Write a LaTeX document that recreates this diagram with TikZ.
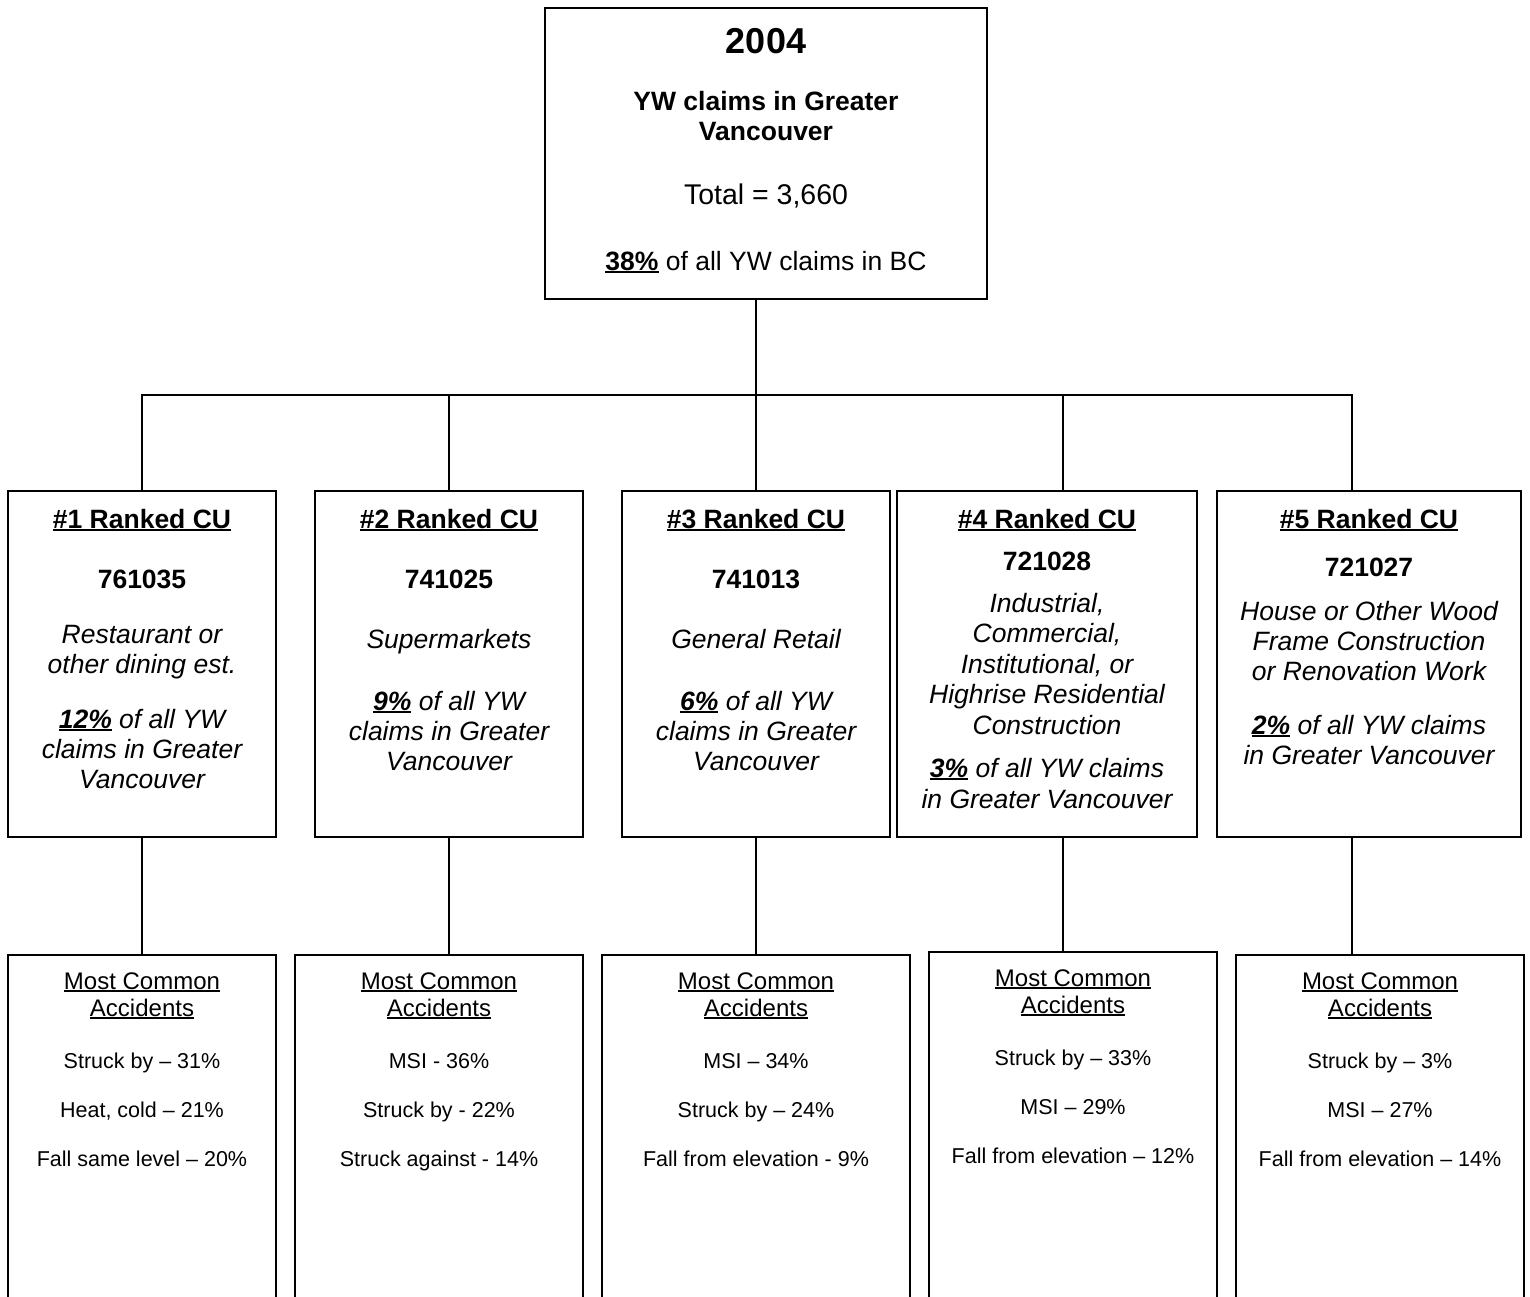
\documentclass[tikz,border=0pt]{standalone}
\usepackage{fontspec}
\setmainfont{Liberation Sans}
\newcommand\ulx[1]{\setbox0=\hbox{#1}\leavevmode\rlap{\rule[-0.12em]{\wd0}{0.075em}}\box0\relax}
\begin{document}
\begin{tikzpicture}[x=1pt,y=-1pt,
  box/.style={draw, line width=1.8pt, inner sep=0pt},
  conn/.style={draw, line width=1.8pt},
  txt/.style={inner sep=0pt, anchor=base},
  fyear/.style={txt, font=\fontsize{36}{40}\bfseries\selectfont},
  fbold/.style={txt, font=\fontsize{26.5}{30}\bfseries\selectfont},
  freg/.style={txt, font=\fontsize{26.5}{30}\selectfont},
  ftot/.style={txt, font=\fontsize{28.5}{32}\selectfont},
  fit/.style={txt, font=\fontsize{26.5}{30}\itshape\selectfont},
  fhead/.style={txt, font=\fontsize{24}{27}\selectfont},
  fitem/.style={txt, font=\fontsize{21.5}{25}\selectfont}]
\clip (0,0) rectangle (1530,1296);
% boxes
\node[box, minimum width=442pt, minimum height=291pt] (top) at (766,153.5) {};
\node[box, minimum width=268pt, minimum height=346pt] (b1) at (142,664) {};
\node[box, minimum width=268pt, minimum height=346pt] (b2) at (449,664) {};
\node[box, minimum width=268pt, minimum height=346pt] (b3) at (756,664) {};
\node[box, minimum width=300pt, minimum height=346pt] (b4) at (1047,664) {};
\node[box, minimum width=304pt, minimum height=346pt] (b5) at (1369,664) {};
\node[box, minimum width=268pt, minimum height=400pt] (c1) at (142,1155) {};
\node[box, minimum width=288pt, minimum height=400pt] (c2) at (439,1155) {};
\node[box, minimum width=308pt, minimum height=400pt] (c3) at (756,1155) {};
\node[box, minimum width=288pt, minimum height=400pt] (c4) at (1073,1152) {};
\node[box, minimum width=288pt, minimum height=400pt] (c5) at (1380,1155) {};
% connectors
\coordinate (bar) at (0,395);
\coordinate (x4) at (1063,0);
\coordinate (x5) at (1352,0);
\draw[conn] (top.south -| b3.north) -- (b3.north);
\draw[conn] (b1.north) -- (b1.north |- bar) -- (x5 |- bar) -- (x5 |- b5.north);
\draw[conn] (b2.north) -- (b2.north |- bar);
\draw[conn] (x4 |- b4.north) -- (x4 |- bar);
\draw[conn] (b1.south) -- (c1.north);
\draw[conn] (b2.south) -- (b2.south |- c2.north);
\draw[conn] (b3.south) -- (c3.north);
\draw[conn] (x4 |- b4.south) -- (x4 |- c4.north);
\draw[conn] (x5 |- b5.south) -- (x5 |- c5.north);
% top texts
\node[fyear] (t0a) at (766,53) {2004};
\node[fbold] (t0b) at (766,110) {YW claims in Greater};
\node[fbold] (t0c) at (766,140) {Vancouver};
\node[ftot] (t0d) at (766,204) {Total = 3,660};
\node[freg] (t0e) at (766,270) {\ulx{\bfseries 38\%} of all YW claims in BC};
% box 1
\node[fbold] (t1a) at (142,528) {\ulx{\#1 Ranked CU}};
\node[fbold] (t1b) at (142,588) {761035};
\node[fit] (t1c) at (142,643) {Restaurant or};
\node[fit] (t1d) at (142,673) {other dining est.};
\node[fit] (t1e) at (142,728) {\ulx{\bfseries 12\%} of all YW};
\node[fit] (t1f) at (142,758) {claims in Greater};
\node[fit] (t1g) at (142,788) {Vancouver};
% box 2
\node[fbold] (t2a) at (449,528) {\ulx{\#2 Ranked CU}};
\node[fbold] (t2b) at (449,588) {741025};
\node[fit] (t2c) at (449,648) {Supermarkets};
\node[fit] (t2d) at (449,710) {\ulx{\bfseries 9\%} of all YW};
\node[fit] (t2e) at (449,740) {claims in Greater};
\node[fit] (t2f) at (449,770) {Vancouver};
% box 3
\node[fbold] (t3a) at (756,528) {\ulx{\#3 Ranked CU}};
\node[fbold] (t3b) at (756,588) {741013};
\node[fit] (t3c) at (756,648) {General Retail};
\node[fit] (t3d) at (756,710) {\ulx{\bfseries 6\%} of all YW};
\node[fit] (t3e) at (756,740) {claims in Greater};
\node[fit] (t3f) at (756,770) {Vancouver};
% box 4
\node[fbold] (t4a) at (1047,528) {\ulx{\#4 Ranked CU}};
\node[fbold] (t4b) at (1047,570) {721028};
\node[fit] (t4c) at (1047,612) {Industrial,};
\node[fit] (t4d) at (1047,642) {Commercial,};
\node[fit] (t4e) at (1047,673) {Institutional, or};
\node[fit] (t4f) at (1047,703) {Highrise Residential};
\node[fit] (t4g) at (1047,734) {Construction};
\node[fit] (t4h) at (1047,777) {\ulx{\bfseries 3\%} of all YW claims};
\node[fit] (t4i) at (1047,808) {in Greater Vancouver};
% box 5
\node[fbold] (t5a) at (1369,528) {\ulx{\#5 Ranked CU}};
\node[fbold] (t5b) at (1369,576) {721027};
\node[fit] (t5c) at (1369,620) {House or Other Wood};
\node[fit] (t5d) at (1369,650) {Frame Construction};
\node[fit] (t5e) at (1369,680) {or Renovation Work};
\node[fit] (t5f) at (1369,734) {\ulx{\bfseries 2\%} of all YW claims};
\node[fit] (t5g) at (1369,764) {in Greater Vancouver};
% accidents 1
\node[fhead] (u1a) at (142,989) {\ulx{Most Common}};
\node[fhead] (u1b) at (142,1016) {\ulx{Accidents}};
\node[fitem] (u1c) at (142,1068) {Struck by – 31\%};
\node[fitem] (u1d) at (142,1117) {Heat, cold – 21\%};
\node[fitem] (u1e) at (142,1166) {Fall same level – 20\%};
% accidents 2
\node[fhead] (u2a) at (439,989) {\ulx{Most Common}};
\node[fhead] (u2b) at (439,1016) {\ulx{Accidents}};
\node[fitem] (u2c) at (439,1068) {MSI - 36\%};
\node[fitem] (u2d) at (439,1117) {Struck by - 22\%};
\node[fitem] (u2e) at (439,1166) {Struck against - 14\%};
% accidents 3
\node[fhead] (u3a) at (756,989) {\ulx{Most Common}};
\node[fhead] (u3b) at (756,1016) {\ulx{Accidents}};
\node[fitem] (u3c) at (756,1068) {MSI – 34\%};
\node[fitem] (u3d) at (756,1117) {Struck by – 24\%};
\node[fitem] (u3e) at (756,1166) {Fall from elevation - 9\%};
% accidents 4
\node[fhead] (u4a) at (1073,986) {\ulx{Most Common}};
\node[fhead] (u4b) at (1073,1013) {\ulx{Accidents}};
\node[fitem] (u4c) at (1073,1065) {Struck by – 33\%};
\node[fitem] (u4d) at (1073,1114) {MSI – 29\%};
\node[fitem] (u4e) at (1073,1163) {Fall from elevation – 12\%};
% accidents 5
\node[fhead] (u5a) at (1380,989) {\ulx{Most Common}};
\node[fhead] (u5b) at (1380,1016) {\ulx{Accidents}};
\node[fitem] (u5c) at (1380,1068) {Struck by – 3\%};
\node[fitem] (u5d) at (1380,1117) {MSI – 27\%};
\node[fitem] (u5e) at (1380,1166) {Fall from elevation – 14\%};
\end{tikzpicture}
\end{document}
